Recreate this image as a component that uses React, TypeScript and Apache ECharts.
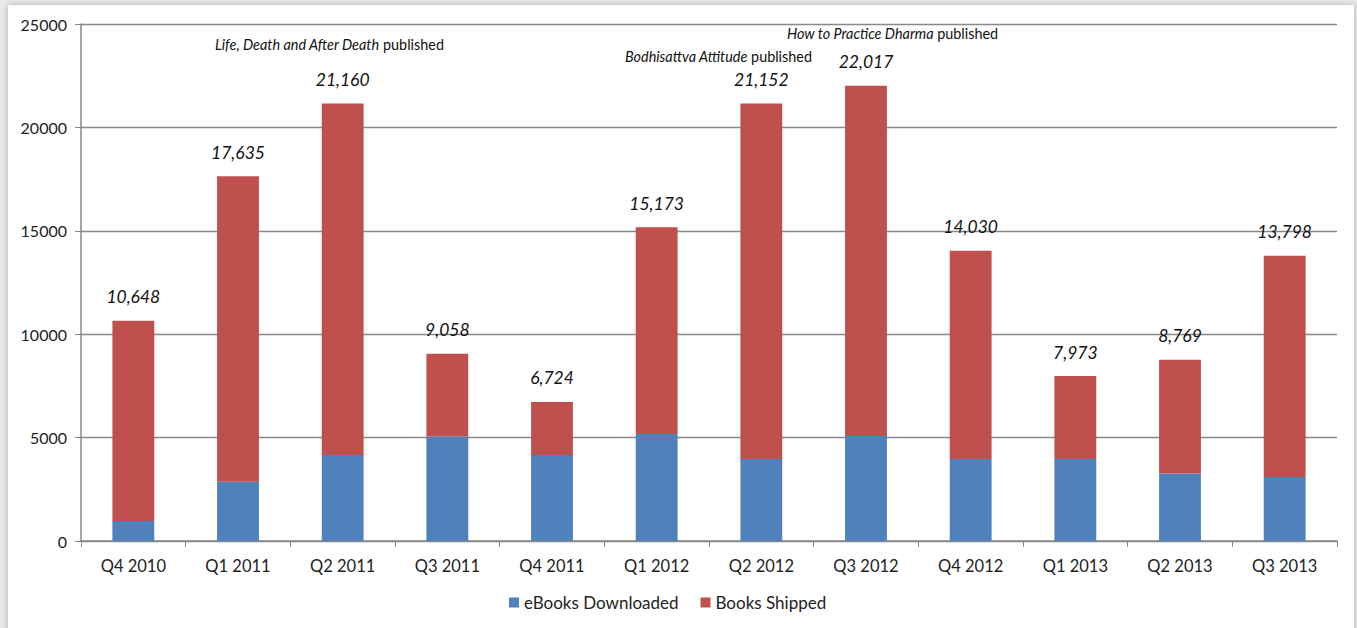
import React, { useEffect, useRef } from "react";
import * as echarts from "echarts";

const categories = ["Q4 2010", "Q1 2011", "Q2 2011", "Q3 2011", "Q4 2011", "Q1 2012", "Q2 2012", "Q3 2012", "Q4 2012", "Q1 2013", "Q2 2013", "Q3 2013"];
const totals = [10648, 17635, 21160, 9058, 6724, 15173, 21152, 22017, 14030, 7973, 8769, 13798];
const ebooks = [970, 2870, 4160, 5050, 4160, 5170, 3960, 5080, 3960, 3960, 3270, 3100];
const shipped = totals.map((t, i) => t - ebooks[i]);
const yTicks = [0, 5000, 10000, 15000, 20000, 25000];

const FONT = "Lato, 'Liberation Sans', sans-serif";

export default function App() {
  const ref = useRef<HTMLDivElement>(null);
  useEffect(() => {
    document.body.style.margin = "0";
    const chart = echarts.init(ref.current!, null, { renderer: "svg" });
    const note = (x: number, y: number, it: string) => ({
      type: "text",
      x,
      y,
      style: {
        text: `{i|${it}} {n|published}`,
        rich: {
          i: { fontStyle: "italic", fontSize: 14.4, fontFamily: FONT, fill: "#111" },
          n: { fontSize: 14.4, fontFamily: FONT, fill: "#111" },
        },
        verticalAlign: "middle",
      },
      z: 10,
    });
    chart.setOption({
      animation: false,
      backgroundColor: "#e9e9e9",
      graphic: [
        {
          type: "rect",
          shape: { x: 8, y: 5, width: 1346, height: 640 },
          style: { fill: "#ffffff", shadowBlur: 6, shadowColor: "rgba(0,0,0,0.25)" },
          z: -10,
          silent: true,
        },
        note(215, 44, "Life, Death and After Death"),
        note(625, 56, "Bodhisattva Attitude"),
        note(787, 33, "How to Practice Dharma"),
      ],
      grid: { left: 81, right: 20, top: 24, bottom: 87 },
      legend: {
        bottom: 12,
        left: 504,
        itemWidth: 10,
        itemHeight: 10,
        itemGap: 22,
        icon: "rect",
        textStyle: { fontFamily: FONT, fontSize: 17, color: "#222" },
        data: ["eBooks Downloaded", "Books Shipped"],
      },
      xAxis: {
        type: "category",
        data: categories,
        axisLine: { lineStyle: { color: "#888", width: 1.5 } },
        axisTick: { show: true, alignWithLabel: false, length: 6, lineStyle: { color: "#888" } },
        axisLabel: { fontFamily: FONT, fontSize: 16.5, color: "#222", margin: 16 },
      },
      yAxis: {
        type: "value",
        min: 0,
        max: 25000,
        interval: 5000,
        axisLine: { show: true, lineStyle: { color: "#888", width: 1.5 } },
        axisTick: { show: true, length: 6, lineStyle: { color: "#888" } },
        splitLine: { lineStyle: { color: "#888", width: 1.4 } },
        axisLabel: {
          fontFamily: FONT,
          fontSize: 16,
          color: "#222",
          margin: 14,
          formatter: (v: number) => (yTicks.includes(v) ? String(v) : ""),
        },
      },
      series: [
        {
          name: "eBooks Downloaded",
          type: "bar",
          stack: "total",
          data: ebooks,
          barWidth: "40%",
          itemStyle: { color: "#4f81bd" },
        },
        {
          name: "Books Shipped",
          type: "bar",
          stack: "total",
          data: shipped,
          barWidth: "40%",
          itemStyle: { color: "#c0504d" },
          label: {
            show: true,
            position: "top",
            distance: 15,
            fontFamily: FONT,
            fontStyle: "italic",
            fontSize: 17.5,
            color: "#111",
            formatter: (p: any) => totals[p.dataIndex].toLocaleString("en-US"),
          },
        },
      ],
    });
    return () => chart.dispose();
  }, []);
  return <div ref={ref} style={{ width: 1357, height: 628 }} />;
}
